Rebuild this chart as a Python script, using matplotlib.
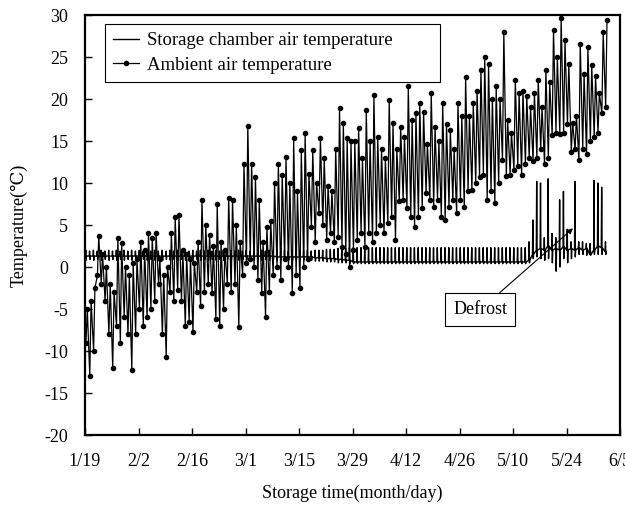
import numpy as np
import matplotlib.pyplot as plt

plt.rcParams['font.family'] = ['Liberation Serif', 'DejaVu Serif']
plt.rcParams['axes.unicode_minus'] = False

# daily ambient minimum / maximum (deg C), day 0 = 1/19
amb_min = [-9, -13, -10, -1, -2, -4, -8, -12, -7, -9,
           -6, -8, -12.3, -8, -5, -7, -6, -5, -4, -2,
           -8, -10.7, -3, -4, -2.7, -4, -7, -6.5, -7.7, -3,
           -4.7, -3, -2, -3.1, -6.2, -7, -5, -2, -3, -2,
           -7.1, -1, 0.5, 1, 0, -1.5, -3.1, -6, -3, -1,
           0, -1.5, 1, 0, -3.1, -1, -2.5, 0, 1, 4.8,
           3, 6.4, 5, 3.2, 4, 3, 3.6, 2.4, 1.5, 0,
           2, 3.2, 4, 2.4, 4, 3, 4, 5, 4, 5.2,
           6, 3.2, 7.8, 8, 7, 6, 4.8, 6, 7, 8.8,
           8, 7.2, 8, 6, 5.6, 7.2, 8, 6.4, 8, 7.2,
           9, 9.2, 10, 10.7, 11, 8, 9, 7.6, 10, 12.7,
           10.8, 11, 11.5, 12, 11, 12.3, 13, 12.6, 13, 14,
           12.3, 13, 15.7, 16, 15.8, 16, 17, 13.7, 14, 12.7,
           14, 13.4, 15, 15.5, 16, 18.3, 19]
amb_max = [-5, -4, -2.5, 3.7, 1.5, 0, -2, -3, 3.5, 2.8,
           0, -1, 0.5, 1, 3, 2, 4, 3.5, 4, 1,
           -1, 0, 4, 5.9, 6.2, 2, 1.6, 1, 0.5, 3,
           8, 5, 3.8, 2.5, 7.5, 3, 2, 8.2, 8, 5,
           3, 12.3, 16.8, 12.3, 10.7, 8, 3, 4.8, 5.5, 10,
           12.3, 11, 13.1, 10, 15.3, 9, 13.9, 15.9, 11.1, 13.9,
           10, 15.3, 13, 9.6, 9, 14, 18.9, 17.1, 15.3, 15,
           15, 16.5, 13, 18.7, 15, 20.5, 15.5, 14, 13, 19.9,
           17.1, 14, 16.7, 15.5, 21.5, 17.5, 18.3, 19.5, 18.5, 14.7,
           20.7, 16.7, 15, 19.5, 17, 16.3, 14, 19.5, 18, 22.6,
           18, 19.5, 21, 23.5, 25, 24.2, 20, 21.5, 20, 28,
           17.5, 16, 22.3, 20.7, 21, 20.3, 19, 20.7, 22.3, 19,
           23.5, 22, 28.2, 25, 29.6, 27, 24.2, 17.2, 18, 26.6,
           23, 26.2, 24, 22.7, 20.7, 28, 29.4]

# storage chamber: daily base level, upper and lower swing (deg C)
ch_base = [1.3, 1.3, 1.3, 1.3, 1.3, 1.3, 1.3, 1.3, 1.3, 1.3,
           1.3, 1.3, 1.3, 1.3, 1.3, 1.3, 1.3, 1.3, 1.3, 1.3,
           1.3, 1.3, 1.3, 1.3, 1.3, 1.3, 1.3, 1.3, 1.3, 1.3,
           1.3, 1.3, 1.3, 1.3, 1.3, 1.3, 1.3, 1.3, 1.3, 1.3,
           1.3, 1.3, 1.3, 1.3, 1.3, 1.3, 1.3, 1.3, 1.3, 1.3,
           1.2, 1.2, 1.2, 1.2, 1.2, 1.2, 1.2, 1.2, 1.2, 1.2,
           1.1, 1.1, 1.1, 1.0, 1.0, 1.0, 0.9, 0.9, 0.8, 0.8,
           0.6, 0.6, 0.6, 0.6, 0.6, 0.6, 0.6, 0.6, 0.6, 0.6,
           0.6, 0.6, 0.6, 0.6, 0.6, 0.6, 0.6, 0.6, 0.6, 0.6,
           0.6, 0.6, 0.6, 0.6, 0.6, 0.6, 0.6, 0.6, 0.6, 0.6,
           0.6, 0.6, 0.6, 0.6, 0.6, 0.6, 0.6, 0.6, 0.6, 0.6,
           0.6, 0.6, 0.6, 0.6, 0.6, 0.6, 0.8, 1.5, 2.0, 2.2,
           2.0, 2.5, 2.0, 2.2, 2.0, 2.4, 2.0, 2.2, 2.0, 2.3,
           2.0, 2.2, 1.5, 2.0, 2.5, 2.3, 1.8]
ch_high = [2.0, 1.9, 2.0, 1.9, 2.0, 1.9, 2.0, 1.9, 2.0, 1.9,
           2.0, 1.9, 2.0, 1.9, 2.0, 1.9, 2.0, 1.9, 2.0, 1.9,
           2.0, 1.9, 2.0, 1.9, 2.0, 1.9, 2.0, 1.9, 2.0, 1.9,
           2.0, 1.9, 2.0, 1.9, 2.0, 1.9, 2.0, 1.9, 2.0, 1.9,
           2.0, 1.9, 2.0, 1.9, 2.0, 1.9, 2.0, 1.9, 2.0, 1.9,
           2.0, 1.9, 2.0, 1.9, 2.0, 1.9, 2.0, 1.9, 2.0, 1.9,
           2.0, 2.0, 2.0, 2.1, 2.1, 2.1, 2.2, 2.2, 2.2, 2.3,
           2.3, 2.3, 2.3, 2.3, 2.3, 2.3, 2.3, 2.3, 2.3, 2.3,
           2.3, 2.3, 2.3, 2.3, 2.3, 2.3, 2.3, 2.3, 2.3, 2.3,
           2.3, 2.3, 2.3, 2.3, 2.3, 2.3, 2.3, 2.3, 2.3, 2.3,
           2.3, 2.3, 2.3, 2.3, 2.3, 2.3, 2.3, 2.3, 2.3, 2.3,
           2.3, 2.3, 2.3, 2.3, 2.3, 2.3, 3.0, 5.6, 10.2, 10.0,
           3.5, 10.5, 4.0, 3.5, 8.0, 9.0, 4.5, 3.0, 10.2, 3.0,
           3.0, 2.8, 2.8, 10.3, 10.0, 9.5, 3.0]
ch_low = [0.8, 0.9, 0.8, 0.9, 0.8, 0.9, 0.8, 0.9, 0.8, 0.9,
          0.8, 0.9, 0.8, 0.9, 0.8, 0.9, 0.8, 0.9, 0.8, 0.9,
          0.8, 0.9, 0.8, 0.9, 0.8, 0.9, 0.8, 0.9, 0.8, 0.9,
          0.8, 0.9, 0.8, 0.9, 0.8, 0.9, 0.8, 0.9, 0.8, 0.9,
          0.8, 0.9, 0.8, 0.9, 0.8, 0.9, 0.8, 0.9, 0.8, 0.9,
          0.8, 0.8, 0.8, 0.8, 0.8, 0.8, 0.8, 0.8, 0.8, 0.8,
          0.7, 0.7, 0.7, 0.6, 0.6, 0.6, 0.5, 0.5, 0.5, 0.4,
          0.4, 0.4, 0.4, 0.4, 0.4, 0.4, 0.4, 0.4, 0.4, 0.4,
          0.4, 0.4, 0.4, 0.4, 0.4, 0.4, 0.4, 0.4, 0.4, 0.4,
          0.4, 0.4, 0.4, 0.4, 0.4, 0.4, 0.4, 0.4, 0.4, 0.4,
          0.4, 0.4, 0.4, 0.4, 0.4, 0.4, 0.4, 0.4, 0.4, 0.4,
          0.4, 0.4, 0.4, 0.4, 0.4, 0.4, 0.5, 1.0, 1.2, 1.0,
          0.8, 1.0, 0.5, -0.5, 0.0, 1.0, 0.5, 1.0, 1.2, 1.5,
          1.5, 1.4, 1.4, 1.5, 1.5, 1.5, 1.5]

tick_days = [0, 14, 28, 42, 56, 70, 84, 98, 112, 126, 140]
tick_labels = ['1/19', '2/2', '2/16', '3/1', '3/15', '3/29',
               '4/12', '4/26', '5/10', '5/24', '6/5']

# readings laid out in time order within each day
d = np.arange(len(amb_min))
amb_t = np.column_stack([d + 0.25, d + 0.6]).ravel()
amb_v = np.column_stack([amb_min, amb_max]).ravel()

# chamber: short compressor swing each day, then back to the base level
c = np.arange(len(ch_base))
ch_t = np.column_stack([c + 0.1, c + 0.2, c + 0.3, c + 0.4]).ravel()
ch_v = np.column_stack([ch_base, ch_high, ch_low, ch_base]).ravel()

fig = plt.figure(figsize=(6.25, 5.11), dpi=100)
ax = fig.add_axes([85 / 625, 1 - 435 / 511, 535 / 625, 420 / 511])

ax.plot(ch_t, ch_v, color='black', lw=1.0,
        label='Storage chamber air temperature')
ax.plot(amb_t, amb_v, color='black', lw=0.9, marker='o', ms=3.0,
        label='Ambient air temperature')

ax.set_xlim(0, 140)
ax.set_ylim(-20, 30)
ax.set_xticks(tick_days)
ax.set_xticklabels(tick_labels)
ax.set_yticks(range(-20, 31, 5))
ax.tick_params(axis='both', direction='in', length=5, width=1.0,
               labelsize=13)
ax.tick_params(axis='x', pad=13)
ax.tick_params(axis='y', pad=12)
for s in ax.spines.values():
    s.set_linewidth(1.6)

ax.set_xlabel('Storage time(month/day)', fontsize=13)
ax.xaxis.set_label_coords(0.5, -0.118)
ax.set_ylabel('Temperature(℃)', fontsize=13)
ax.yaxis.set_label_coords(-0.108, 0.5)

leg = ax.legend(loc='upper left', bbox_to_anchor=(0.037, 0.5, 0.626, 0.479),
                mode='expand', fontsize=13.5, frameon=True, fancybox=False,
                framealpha=1, edgecolor='black', borderpad=0.45,
                handlelength=1.4, handletextpad=0.4, labelspacing=0.4,
                borderaxespad=0)
leg.get_frame().set_linewidth(0.8)

ax.annotate('Defrost', xy=(127.7, 4.6), xytext=(103.4, -5.1),
            ha='center', va='center', fontsize=13,
            bbox=dict(boxstyle='square,pad=0.45', fc='white', ec='black',
                      lw=0.8),
            arrowprops=dict(arrowstyle='-|>', color='black', lw=0.8,
                            mutation_scale=8, shrinkA=0, shrinkB=0))

fig.savefig('out.png', dpi=100)
